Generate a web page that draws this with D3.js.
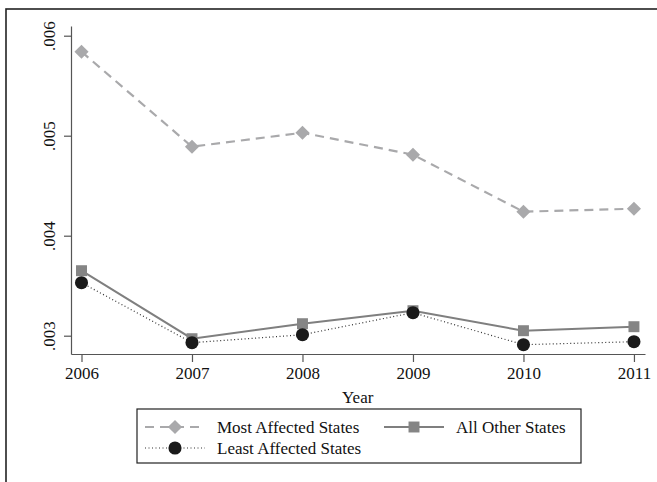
<!DOCTYPE html>
<html>
<head>
<meta charset="utf-8">
<script src="https://cdn.jsdelivr.net/npm/d3@7"></script>
<style>
  html, body { margin: 0; padding: 0; background: #fff; }
  svg { display: block; }
  svg text { font-family: "Liberation Serif", "DejaVu Serif", serif; }
</style>
</head>
<body>
<svg id="chart" width="657" height="482"></svg>
<script>
// Years on the horizontal axis
const years = [2006, 2007, 2008, 2009, 2010, 2011];

// Series values by year
const mostAffected  = [0.00584, 0.00489, 0.00503, 0.00481, 0.00424, 0.00427];
const allOther      = [0.00365, 0.00297, 0.00312, 0.00325, 0.00305, 0.00309];
const leastAffected = [0.00353, 0.00293, 0.00301, 0.00323, 0.00291, 0.00294];

// Tick values
const yTicks = [0.003, 0.004, 0.005, 0.006];
const xTicks = years;

const seriesNames = ["Most Affected States", "All Other States", "Least Affected States"];

const svg = d3.select("#chart");
const serif = "'Liberation Serif', 'DejaVu Serif', serif";

// Outer frame
svg.append("rect")
  .attr("x", 6).attr("y", 9)
  .attr("width", 660).attr("height", 490)
  .attr("fill", "none")
  .attr("stroke", "#222")
  .attr("stroke-width", 1.6);

const x = d3.scaleLinear().domain([2005.905, 2011.1]).range([71, 645]);
const y = d3.scaleLinear().domain([0.002817, 0.006097]).range([354, 26]);

const axisColor = "#555";

// Y axis
const yAxis = svg.append("g")
  .attr("transform", "translate(71,0)")
  .call(d3.axisLeft(y).tickValues(yTicks).tickSize(7).tickSizeOuter(0)
    .tickFormat(d => d3.format(".3f")(d).replace(/^0/, "")));
yAxis.attr("font-family", null).attr("font-size", null);
yAxis.select(".domain").attr("stroke", axisColor).attr("stroke-width", 1.2);
yAxis.selectAll(".tick line").attr("stroke", axisColor).attr("stroke-width", 1.2);
yAxis.selectAll(".tick text")
  .style("font-family", serif)
  .style("font-size", "17px")
  .attr("fill", "#111")
  .attr("text-anchor", "middle")
  .attr("x", 0).attr("dy", 0)
  .attr("transform", "translate(-20,0) rotate(-90)")
  .attr("dominant-baseline", "middle");

// X axis
const xAxis = svg.append("g")
  .attr("transform", "translate(0,354)")
  .call(d3.axisBottom(x).tickValues(xTicks).tickSize(8).tickSizeOuter(0)
    .tickFormat(d3.format("d")));
xAxis.attr("font-family", null).attr("font-size", null);
xAxis.select(".domain").attr("stroke", axisColor).attr("stroke-width", 1.2);
xAxis.selectAll(".tick line").attr("stroke", axisColor).attr("stroke-width", 1.2);
xAxis.selectAll(".tick text")
  .style("font-family", serif)
  .style("font-size", "17px")
  .attr("fill", "#111")
  .attr("y", 13).attr("dy", "0.71em");

// Axis title
svg.append("text")
  .attr("x", x(2008.5)).attr("y", 403)
  .attr("text-anchor", "middle")
  .style("font-family", serif)
  .style("font-size", "17px")
  .attr("fill", "#111")
  .text("Year");

// Series styles
const styles = [
  { values: mostAffected,  color: "#a9a9ab", width: 2.2, dash: "9,6",   marker: "diamond", fill: "#a9a9ab" },
  { values: allOther,      color: "#7f7f7f", width: 2,   dash: null,    marker: "square",  fill: "#858585" },
  { values: leastAffected, color: "#333",    width: 1.2, dash: "1,2.5", marker: "circle",  fill: "#1a1a1a" }
];

const line = d3.line().x(d => x(d.year)).y(d => y(d.value));

const symbolFor = {
  diamond: d3.symbol().type(d3.symbolSquare).size(100),
  square: d3.symbol().type(d3.symbolSquare).size(120),
  circle: d3.symbol().type(d3.symbolCircle).size(135)
};

function drawMarker(g, kind, cx, cy, fill) {
  const p = g.append("path")
    .attr("d", symbolFor[kind]())
    .attr("fill", fill);
  if (kind === "diamond") p.attr("transform", `translate(${cx},${cy}) rotate(45)`);
  else p.attr("transform", `translate(${cx},${cy})`);
}

// Each series: connecting line, then its markers
styles.forEach(s => {
  const pts = years.map((yr, j) => ({ year: yr, value: s.values[j] }));
  const g = svg.append("g");
  g.append("path")
    .datum(pts)
    .attr("d", line)
    .attr("fill", "none")
    .attr("stroke", s.color)
    .attr("stroke-width", s.width)
    .attr("stroke-dasharray", s.dash);
  pts.forEach(p => drawMarker(g, s.marker, x(p.year), y(p.value), s.fill));
});

// Legend
const legend = svg.append("g");
legend.append("rect")
  .attr("x", 137).attr("y", 409)
  .attr("width", 444).attr("height", 54)
  .attr("fill", "#fff")
  .attr("stroke", "#222")
  .attr("stroke-width", 1.2);

const legendItems = [
  { idx: 0, lx: 145, ly: 427 },
  { idx: 1, lx: 384, ly: 427 },
  { idx: 2, lx: 145, ly: 448 }
];
legendItems.forEach(it => {
  const s = styles[it.idx];
  const g = legend.append("g");
  g.append("line")
    .attr("x1", it.lx).attr("x2", it.lx + 60)
    .attr("y1", it.ly).attr("y2", it.ly)
    .attr("stroke", s.color)
    .attr("stroke-width", s.width)
    .attr("stroke-dasharray", s.dash);
  drawMarker(g, s.marker, it.lx + 30, it.ly, s.fill);
  g.append("text")
    .attr("x", it.lx + 72).attr("y", it.ly)
    .attr("dy", "0.35em")
    .style("font-family", serif)
    .style("font-size", "17px")
    .attr("fill", "#111")
    .text(seriesNames[it.idx]);
});
</script>
</body>
</html>
